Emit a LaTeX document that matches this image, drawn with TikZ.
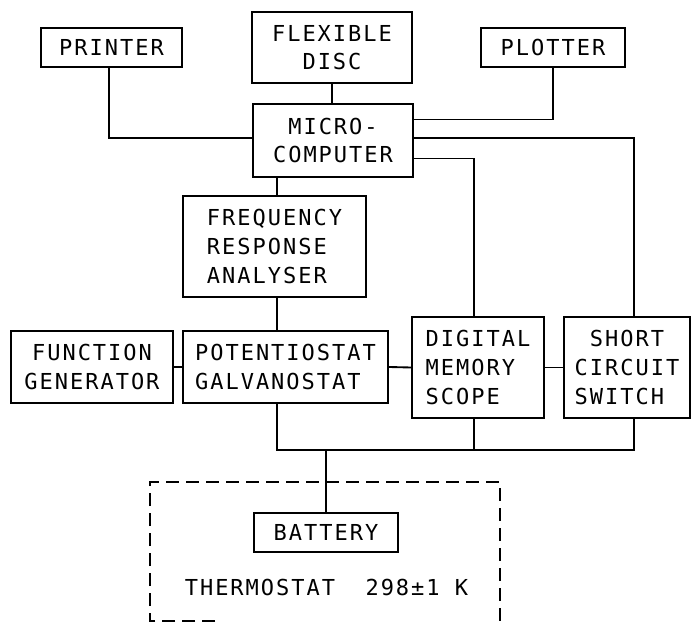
\documentclass[tikz,border=0pt]{standalone}
\usepackage{fontspec}
\newfontfamily\plotfont[LetterSpace=9]{DejaVu Sans Mono}
\usetikzlibrary{calc}
\begin{document}
\begin{tikzpicture}[x=0.75pt,y=-0.75pt,
  line width=1.4pt,
  txt/.style={font=\plotfont\fontsize{16.5}{21.4}\selectfont, inner sep=0pt},
  box/.style 2 args={draw, txt, minimum width=#1*0.75pt, minimum height=#2*0.75pt},
  wire/.style={line width=1.4pt},
  enclosure/.style={line width=1.2pt, dash pattern=on 10pt off 5pt}
]
\useasboundingbox (0,0) rectangle (692,623);

\node[box={141}{39}] (printer) at (111.5,47.5) {PRINTER};
\node[box={160}{71}, align=center] (flex) at (332,47.5) {FLEXIBLE\\DISC};
\node[box={144}{39}] (plotter) at (553,47.5) {PLOTTER};
\node[box={160}{73}, align=center] (micro) at (333,140.5) {MICRO-\\COMPUTER};
\node[box={183}{101}, align=left] (fra) at (274.5,246.5) {FREQUENCY\\RESPONSE\\ANALYSER};
\node[box={162}{72}, align=center] (fg) at (92,367) {FUNCTION\\GENERATOR};
\node[box={205}{72}, align=left] (pot) at (285.5,367) {POTENTIOSTAT\\GALVANOSTAT};
\node[box={132}{101}, align=left] (dms) at (478,367.5) {DIGITAL\\MEMORY\\SCOPE};
\node[box={126}{101}, align=left] (scs) at (627,367.5) {\ SHORT\\CIRCUIT\\SWITCH};
\node[box={144}{39}] (battery) at (326,532.5) {BATTERY};
\node[txt] (thermo) at (326.5,587) {THERMOSTAT\ \ 298±1\ K};

% enclosure (thermostat)
\draw[enclosure] (215,621) -- (150,621) -- (150,482) -- (500,482) -- (500,626);

% connectors
\coordinate (prS) at ($(printer.south west)!0.48!(printer.south east)$);
\coordinate (mPr) at ($(micro.north west)!0.47!(micro.south west)$);
\coordinate (mPl) at ($(micro.north east)!0.22!(micro.south east)$);
\coordinate (mSc) at ($(micro.north east)!0.47!(micro.south east)$);
\coordinate (mDm) at ($(micro.north east)!0.74!(micro.south east)$);
\coordinate (scTop) at ($(scs.north west)!0.556!(scs.north east)$);
\coordinate (dmTop) at ($(dms.north west)!0.47!(dms.north east)$);
\coordinate (mFr) at ($(micro.south west)!0.156!(micro.south east)$);
\coordinate (busY) at (0,450);

\draw[wire] (flex.south) -- (flex.south |- micro.north);
\draw[wire] (prS) |- (mPr);
\draw[wire] (mPl) -| (plotter.south);
\draw[wire] (mSc) -| (scTop);
\draw[wire] (mDm) -| (dmTop);
\draw[wire] (mFr) -- (mFr |- fra.north);
\draw[wire] (mFr |- fra.south) -- (mFr |- pot.north);
\draw[wire] (fg.east) -- (pot.west);
\draw[wire] (pot.east) -- (dms.west);
\draw[wire] (dms.east) -- (scs.west);
\draw[wire] (mFr |- pot.south) -- (mFr |- busY) -- (scTop |- busY) -- (scTop |- scs.south);
\draw[wire] (dmTop |- dms.south) -- (dmTop |- busY);
\draw[wire] (battery.north) -- (battery.north |- busY);
\end{tikzpicture}
\end{document}
